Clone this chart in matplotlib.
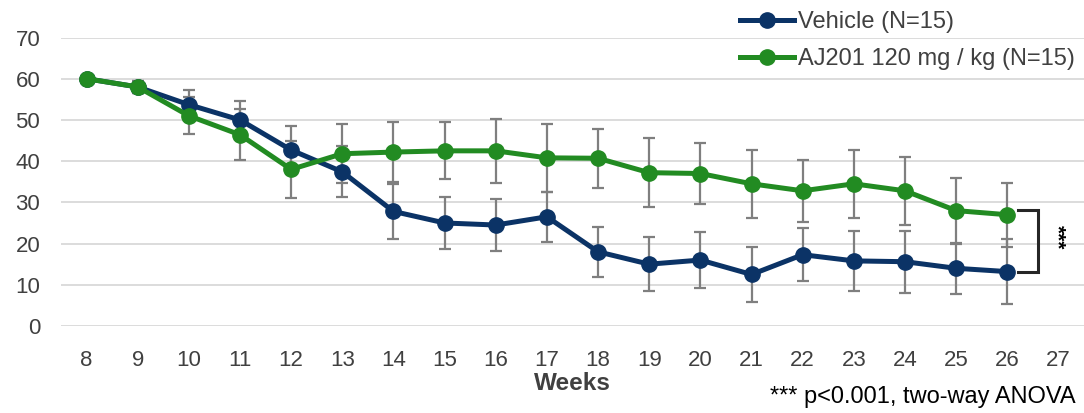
import matplotlib
matplotlib.use("Agg")
import matplotlib.pyplot as plt
import numpy as np

plt.rcParams['font.family'] = ['Liberation Sans', 'DejaVu Sans']

weeks = [8, 9, 10, 11, 12, 13, 14, 15, 16, 17, 18, 19, 20, 21, 22, 23, 24, 25, 26]
x_ticks = list(range(8, 28))

vehicle = [60, 58, 53.7, 50, 42.7, 37.4, 27.8, 25, 24.5, 26.5, 18, 15, 16, 12.5, 17.3, 15.8, 15.6, 14, 13.2]
vehicle_err = [0, 1.5, 3.5, 4.7, 5.8, 6.2, 6.6, 6.2, 6.4, 6.0, 6.0, 6.6, 6.8, 6.7, 6.5, 7.2, 7.5, 6.2, 7.9]

aj201 = [60, 58, 51, 46.4, 38, 41.8, 42.2, 42.5, 42.5, 40.8, 40.7, 37.2, 37, 34.5, 32.8, 34.5, 32.8, 28, 27]
aj201_err = [0, 1.5, 4.5, 6.2, 7.0, 7.2, 7.2, 6.9, 7.8, 8.2, 7.2, 8.4, 7.3, 8.3, 7.5, 8.2, 8.2, 8.0, 7.8]

navy = '#0B3366'
green = '#228B22'
err_gray = '#7F7F7F'
text_col = '#404040'

fig = plt.figure(figsize=(10.84, 4.13), dpi=100)
ax = fig.add_axes([61 / 1084, 1 - 326 / 413, 1 - 61 / 1084, (326 - 37.5) / 413])

for y, e, c, lab in [(vehicle, vehicle_err, navy, 'Vehicle (N=15)'),
                     (aj201, aj201_err, green, 'AJ201 120 mg / kg (N=15)')]:
    ax.errorbar(weeks, y, yerr=e, fmt='none', ecolor=err_gray, elinewidth=1.6,
                capsize=4.5, capthick=1.6, zorder=3)
    ax.plot(weeks, y, color=c, lw=3.6, marker='o', ms=11, mfc=c, mec=c,
            label=lab, zorder=4)

ax.set_xlim(7.5, 27.5)
ax.set_ylim(0, 70)
ax.set_yticks(range(0, 71, 10))
ax.set_xticks(x_ticks)
ax.grid(axis='y', color='#D9D9D9', lw=1.3)
ax.set_axisbelow(True)
for s in ax.spines.values():
    s.set_visible(False)
ax.tick_params(axis='both', length=0, labelsize=16, colors=text_col)
ax.tick_params(axis='y', pad=15)
ax.tick_params(axis='x', pad=17)
ax.set_xlabel('Weeks', fontsize=17.5, fontweight='bold', color=text_col, labelpad=1)

# significance bracket between the final time points
x_end = weeks[-1]
ax.plot([x_end + 0.2, x_end + 0.6, x_end + 0.6, x_end + 0.2],
        [aj201[-1] + 1.2, aj201[-1] + 1.2, vehicle[-1], vehicle[-1]],
        color='#262626', lw=2.2, solid_joinstyle='miter', clip_on=False, zorder=5)
ax.text(x_end + 0.97, (aj201[-1] + vehicle[-1]) / 2 + 1.5, '***', rotation=270,
        ha='center', va='center', fontsize=15, fontweight='bold', color='black')

leg = ax.legend(loc='upper right', bbox_to_anchor=(1.0, 1.124), frameon=False,
                fontsize=17, handlelength=2.3, handletextpad=0.15, labelspacing=0.62,
                borderaxespad=0)
for t in leg.get_texts():
    t.set_color(text_col)

fig.text(1076 / 1084, 1 - 397 / 413, '*** p<0.001, two-way ANOVA', ha='right', va='center',
         fontsize=17, color='black')

fig.savefig('out.png', dpi=100)
